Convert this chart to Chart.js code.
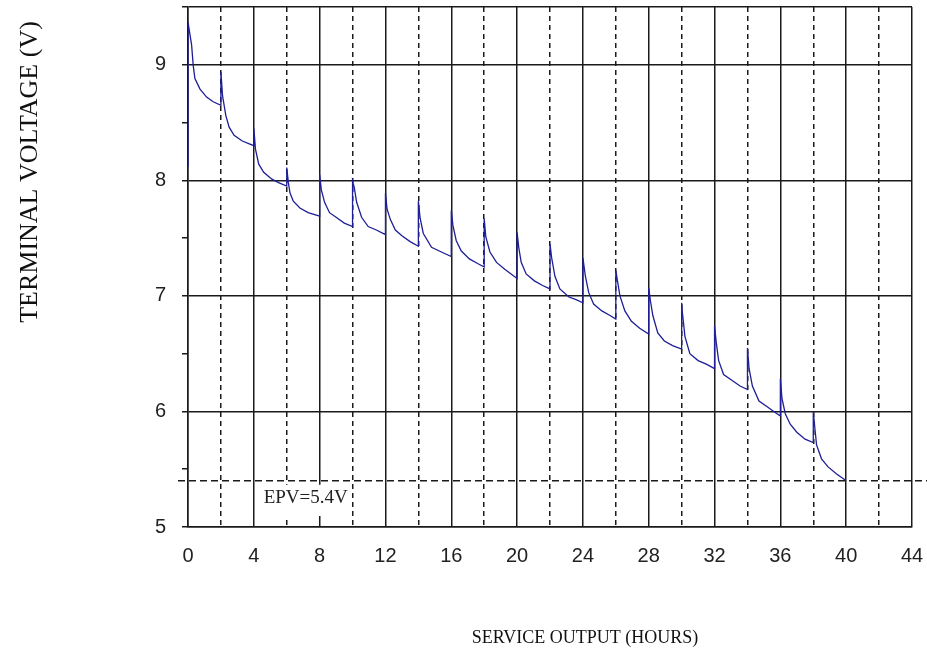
<!DOCTYPE html>
<html>
<head>
<meta charset="utf-8">
<script src="https://cdn.jsdelivr.net/npm/chart.js@4"></script>
<style>
    body { margin: 0; background: #fff; }
    #wrap { width: 927px; height: 653px; }
</style>
</head>
<body>
<div id="wrap"><canvas id="dischargeChart"></canvas></div>
<script>
// one pulse every 2 hours: jump up, then decay
const hours = [
    0, 0, 0.22, 0.32, 0.42, 0.73, 1.13, 1.53, 2,
    2, 2.1, 2.3, 2.5, 2.8, 3.3, 4,
    4, 4.1, 4.3, 4.6, 5.1, 5.5, 6,
    6, 6.1, 6.2, 6.4, 6.8, 7.3, 8,
    8, 8.1, 8.3, 8.6, 9, 9.5, 10,
    10, 10.1, 10.25, 10.55, 10.95, 11.45, 12,
    12, 12.1, 12.3, 12.6, 13, 13.5, 14,
    14, 14.1, 14.3, 14.8, 15.4, 16,
    16, 16.1, 16.3, 16.6, 17.1, 17.6, 18,
    18, 18.1, 18.35, 18.75, 19.25, 20,
    20, 20.1, 20.25, 20.55, 21.05, 21.55, 22,
    22, 22.1, 22.3, 22.6, 23.15, 23.55, 24,
    24, 24.15, 24.35, 24.65, 25.15, 25.65, 26,
    26, 26.1, 26.25, 26.55, 26.95, 27.45, 28,
    28, 28.1, 28.25, 28.55, 28.95, 29.45, 30,
    30, 30.05, 30.2, 30.5, 31, 31.5, 32,
    32, 32.1, 32.25, 32.55, 33.05, 33.55, 34,
    34, 34.1, 34.3, 34.7, 35.2, 35.6, 36,
    36, 36.1, 36.3, 36.6, 37, 37.5, 38,
    38, 38.1, 38.2, 38.5, 38.9, 39.4, 40
]
const volts = [
    8.12, 9.37, 9.17, 8.99, 8.88, 8.79, 8.72, 8.68, 8.65,
    8.94, 8.73, 8.56, 8.46, 8.39, 8.34, 8.30,
    8.45, 8.27, 8.14, 8.07, 8.01, 7.98, 7.95,
    8.11, 7.98, 7.89, 7.82, 7.76, 7.72, 7.69,
    8.05, 7.92, 7.81, 7.72, 7.68, 7.63, 7.60,
    7.99, 7.94, 7.81, 7.68, 7.60, 7.57, 7.53,
    7.89, 7.75, 7.66, 7.57, 7.52, 7.47, 7.43,
    7.82, 7.68, 7.54, 7.42, 7.38, 7.34,
    7.74, 7.61, 7.48, 7.39, 7.32, 7.28, 7.25,
    7.67, 7.51, 7.38, 7.29, 7.23, 7.15,
    7.55, 7.42, 7.29, 7.19, 7.13, 7.09, 7.06,
    7.45, 7.33, 7.17, 7.06, 6.99, 6.97, 6.94,
    7.33, 7.17, 7.03, 6.93, 6.87, 6.83, 6.80,
    7.22, 7.13, 7.00, 6.87, 6.78, 6.72, 6.67,
    7.07, 6.96, 6.83, 6.68, 6.61, 6.57, 6.54,
    6.94, 6.85, 6.65, 6.50, 6.44, 6.41, 6.37,
    6.74, 6.60, 6.44, 6.32, 6.27, 6.22, 6.19,
    6.55, 6.37, 6.22, 6.09, 6.04, 6.00, 5.96,
    6.28, 6.11, 5.98, 5.89, 5.82, 5.76, 5.73,
    6.00, 5.85, 5.71, 5.59, 5.52, 5.46, 5.40
]
const xTickLabels = [0, 4, 8, 12, 16, 20, 24, 28, 32, 36, 40, 44]
const yTickLabels = [5, 6, 7, 8, 9]
const epv = 5.4
const epvLabel = 'EPV=5.4V'
const xTitle = 'SERVICE OUTPUT (HOURS)'
const yTitle = 'TERMINAL VOLTAGE (V)'

const gridColor = '#1a1a1a'
const tickFont = { family: "'Liberation Sans', Arial, sans-serif", size: 20 }

// keep the plot box where the original has it
const fixBox = size => scale => {
    if (scale.isHorizontal()) scale.height = size
    else scale.width = size
    scale.paddingTop = 0
    scale.paddingBottom = 0
    scale.paddingLeft = 0
    scale.paddingRight = 0
}

const extras = {
    id: 'extras',
    afterDraw(chart) {
        const { ctx, chartArea, scales } = chart
        const y = scales.y.getPixelForValue(epv)
        ctx.save()
        // end-point voltage line
        ctx.strokeStyle = gridColor
        ctx.lineWidth = 1.5
        ctx.setLineDash([7, 4])
        ctx.beginPath()
        ctx.moveTo(chartArea.left - 10, y)
        ctx.lineTo(chart.width, y)
        ctx.stroke()
        ctx.setLineDash([])

        ctx.font = "19px 'Liberation Serif', 'Times New Roman', serif"
        ctx.textBaseline = 'middle'
        ctx.textAlign = 'left'
        const lx = scales.x.getPixelForValue(4.6)
        const ly = y + 17
        const w = ctx.measureText(epvLabel).width
        ctx.fillStyle = '#fff'
        ctx.fillRect(lx - 1, y + 4, w + 1, chartArea.bottom - y - 15)
        ctx.fillStyle = '#222'
        ctx.fillText(epvLabel, lx, ly)

        // axis titles
        ctx.font = "18px 'Liberation Serif', 'Times New Roman', serif"
        ctx.textAlign = 'center'
        ctx.fillStyle = '#111'
        ctx.fillText(xTitle, 585, 638)

        ctx.font = "26px 'Liberation Serif', 'Times New Roman', serif"
        ctx.translate(30, 172)
        ctx.rotate(-Math.PI / 2)
        ctx.fillText(yTitle, 0, 0)
        ctx.restore()
    }
}

const dischargeChart = new Chart(document.getElementById('dischargeChart'), {
    type: 'line',
    data: {
        datasets: [{
            data: hours.map((h, i) => ({ x: h, y: volts[i] })),
            borderColor: '#1e1e96',
            borderWidth: 1.3,
            pointRadius: 0,
            tension: 0,
            fill: false
        }]
    },
    options: {
        responsive: true,
        maintainAspectRatio: false,
        animation: false,
        layout: { padding: { top: 7, right: 15, left: 0, bottom: 0 } },
        plugins: {
            legend: { display: false },
            tooltip: { enabled: false }
        },
        scales: {
            x: {
                type: 'linear',
                min: 0,
                max: 44,
                position: 'bottom',
                afterFit: fixBox(126),
                ticks: {
                    stepSize: 4,
                    padding: 17,
                    color: '#222',
                    font: tickFont,
                    callback: v => xTickLabels.includes(v) ? String(v) : ''
                },
                grid: { color: gridColor, lineWidth: 1.5, drawTicks: false },
                border: { color: gridColor, width: 1.5 }
            },
            xd: {
                type: 'linear',
                min: 0,
                max: 44,
                position: 'bottom',
                afterFit: fixBox(0),
                ticks: { display: false, stepSize: 2 },
                grid: {
                    drawTicks: false,
                    lineWidth: 1.5,
                    color: c => (c.tick && c.tick.value % 4 !== 0) ? gridColor : 'rgba(0,0,0,0)'
                },
                border: { display: false, dash: [5, 4] }
            },
            y: {
                type: 'linear',
                min: 5,
                max: 9.5,
                afterFit: fixBox(188),
                ticks: {
                    stepSize: 0.5,
                    padding: 16,
                    color: '#222',
                    font: tickFont,
                    callback: v => yTickLabels.includes(v) ? String(v) : ''
                },
                grid: {
                    lineWidth: 1.5,
                    tickLength: 6,
                    tickColor: gridColor,
                    color: c => (c.tick && (c.tick.value % 1 === 0 || c.tick.value === 9.5)) ? gridColor : 'rgba(0,0,0,0)'
                },
                border: { color: gridColor, width: 1.5 }
            }
        }
    },
    plugins: [extras]
})
</script>
</body>
</html>
